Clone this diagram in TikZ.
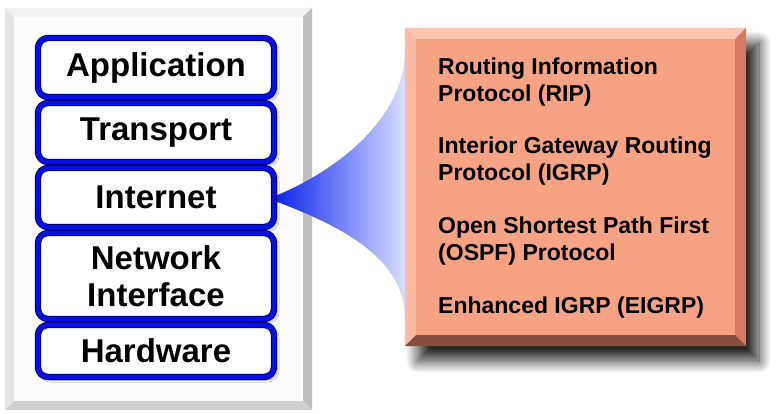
\documentclass[tikz,border=0pt]{standalone}
\usepackage{fontspec}
\setmainfont{Liberation Sans}
\usetikzlibrary{calc, shadows.blur}
\definecolor{tubeblue}{RGB}{5,15,230}
\definecolor{tubedark}{RGB}{0,0,105}
\definecolor{salmon}{RGB}{246,163,132}
\definecolor{salmonlight}{RGB}{252,196,176}
\definecolor{salmondark}{RGB}{212,122,96}
\definecolor{salmondeep}{RGB}{135,78,62}
\definecolor{conedeep}{RGB}{15,40,235}
\definecolor{conepale}{RGB}{215,222,255}
\tikzset{
  layer/.style={draw=tubedark, line width=1pt, double=tubeblue, double distance=4.4pt,
    fill=white, rounded corners=10pt, minimum width=236pt, inner sep=0pt, align=center,
    font=\fontsize{33}{37}\selectfont\bfseries,
    path picture={\draw[black!22, line width=5pt]
      (path picture bounding box.south west) rectangle (path picture bounding box.north east);},
    blur shadow={shadow xshift=3pt, shadow yshift=-3pt, shadow blur steps=6, shadow opacity=40}},
  proto/.style={anchor=north west, align=left, inner sep=0pt,
    font=\fontsize{23}{26.5}\selectfont\bfseries},
}

\begin{document}
\begin{tikzpicture}[x=1pt, y=-1pt]
    \useasboundingbox (0,0) rectangle (780,414);
    % left panel
    \node[fill=gray!2, minimum width=307pt, minimum height=402pt, inner sep=0pt] (panel) at (158.5,209) {};
    \fill[gray!10] (panel.north west) -- (panel.north east) -- ++(-9,9) -- ($(panel.north west)+(9,9)$) -- cycle;
    \fill[gray!20] (panel.north west) -- ($(panel.north west)+(9,9)$) -- ($(panel.south west)+(9,-9)$) -- (panel.south west) -- cycle;
    \fill[gray!50] (panel.north east) -- (panel.south east) -- ++(-9,-9) -- ($(panel.north east)+(-9,9)$) -- cycle;
    \fill[gray!38] (panel.south west) -- (panel.south east) -- ++(-9,-9) -- ($(panel.south west)+(9,-9)$) -- cycle;
    % layers
    \node[layer, minimum height=59pt] (app) at (156,67.5) {Application};
    \node[layer, minimum height=59pt] (trans) at (156,132.5) {Transport};
    \node[layer, minimum height=59pt] (inet) at (156,197.5) {Internet};
    \node[layer, minimum height=86pt] (netif) at (156,276) {Network\\Interface};
    \node[layer, minimum height=52pt] (hw) at (156,351) {Hardware};
    % protocol box
    \node[fill=salmon, minimum width=341pt, minimum height=318pt, inner sep=0pt,
      blur shadow={shadow xshift=13pt, shadow yshift=-15pt, shadow blur radius=12pt,
        shadow blur steps=20, shadow opacity=85}] (routes) at (575.5,187) {};
    \shade[left color=conedeep, right color=conepale]
      ($(inet.east)+(3,-2.5)$) .. controls +(60,-25) and +(-4,63) .. ($(routes.north west)+(0,29)$)
      -- ($(routes.south west)+(0,-33)$) .. controls +(-4,-58) and +(60,23) .. ($(inet.east)+(3,4.5)$) -- cycle;
    \fill[salmonlight] (routes.north west) -- (routes.north east) -- ++(-11,11) -- ($(routes.north west)+(11,11)$) -- cycle;
    \fill[salmonlight!70!salmon] (routes.north west) -- ($(routes.north west)+(11,11)$) -- ($(routes.south west)+(11,-11)$) -- (routes.south west) -- cycle;
    \fill[salmondark] (routes.north east) -- (routes.south east) -- ++(-11,-11) -- ($(routes.north east)+(-11,11)$) -- cycle;
    \fill[salmondeep] (routes.south west) -- (routes.south east) -- ++(-11,-11) -- ($(routes.south west)+(11,-11)$) -- cycle;
    \node[proto] (rip) at (438,58) {Routing Information\\Protocol (RIP)};
    \node[proto] (igrp) at (438,137) {Interior Gateway Routing\\Protocol (IGRP)};
    \node[proto] (ospf) at (438,217) {Open Shortest Path First\\(OSPF) Protocol};
    \node[proto] (eigrp) at (438,297) {Enhanced IGRP (EIGRP)};
\end{tikzpicture}
\end{document}
